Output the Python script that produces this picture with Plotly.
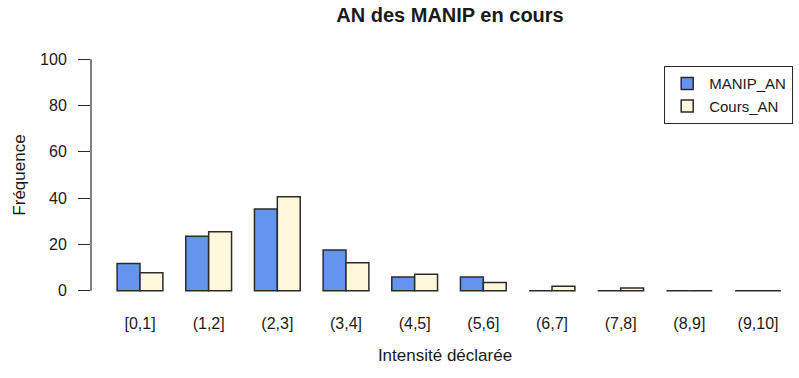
import plotly.graph_objects as go

# Intensity classes and relative frequencies (%) for the two groups
categories = ["[0,1]", "(1,2]", "(2,3]", "(3,4]", "(4,5]",
              "(5,6]", "(6,7]", "(7,8]", "(8,9]", "(9,10]"]
manip_an = [11.8, 23.5, 35.3, 17.6, 5.9, 5.9, 0, 0, 0, 0]
cours_an = [7.8, 25.5, 40.6, 12.1, 7.1, 3.6, 1.9, 1.2, 0, 0]
y_ticks = [0, 20, 40, 60, 80, 100]

FONT = "Liberation Sans, Arial, sans-serif"
INK = "#1a1a1a"
EDGE = "#2b2b2b"

fig = go.Figure()
fig.add_trace(go.Bar(
    x=categories, y=manip_an, name="MANIP_AN",
    marker=dict(color="#6495ED", line=dict(color=EDGE, width=1.5)),
))
fig.add_trace(go.Bar(
    x=categories, y=cours_an, name="Cours_AN",
    marker=dict(color="#FFF8DC", line=dict(color=EDGE, width=1.5)),
))

# y axis line limited to the tick span, as in base R graphics
fig.add_shape(type="line", xref="paper", yref="y", x0=0, x1=0,
              y0=y_ticks[0], y1=y_ticks[-1],
              line=dict(color=EDGE, width=1.2))

fig.update_layout(
    width=799, height=378,
    margin=dict(l=91, r=0, t=50, b=78),
    paper_bgcolor="white", plot_bgcolor="white",
    barmode="group", bargap=1/3, bargroupgap=0,
    font=dict(family=FONT, size=17, color=INK),
    title=dict(text="<b>AN des MANIP en cours</b>", x=450/799, xanchor="center",
               y=1 - 15/378, yanchor="middle",
               font=dict(family=FONT, size=20, color=INK)),
    xaxis=dict(
        range=[-0.7136, 9.597], showline=False, showgrid=False, zeroline=False,
        ticks="", ticklabelstandoff=12,
        tickfont=dict(size=16, color=INK),
        title=dict(text="Intensité déclarée", standoff=18,
                   font=dict(size=17, color=INK)),
        fixedrange=True,
    ),
    yaxis=dict(
        range=[-4, 104], tickvals=y_ticks, showline=False, showgrid=False,
        zeroline=False, ticks="outside", ticklen=12, tickwidth=1.2,
        tickcolor=EDGE, ticklabelstandoff=8,
        tickfont=dict(size=16, color=INK),
        title=dict(text="Fréquence", standoff=10,
                   font=dict(size=17, color=INK)),
        fixedrange=True,
    ),
    legend=dict(
        x=(664 - 91) / 708, y=(300 - 66) / 250, xanchor="left", yanchor="top",
        bordercolor=EDGE, borderwidth=1.2, bgcolor="white",
        font=dict(size=15, color=INK), traceorder="normal",
        itemwidth=34,
    ),
    showlegend=True,
)

fig.write_html("out.html")
